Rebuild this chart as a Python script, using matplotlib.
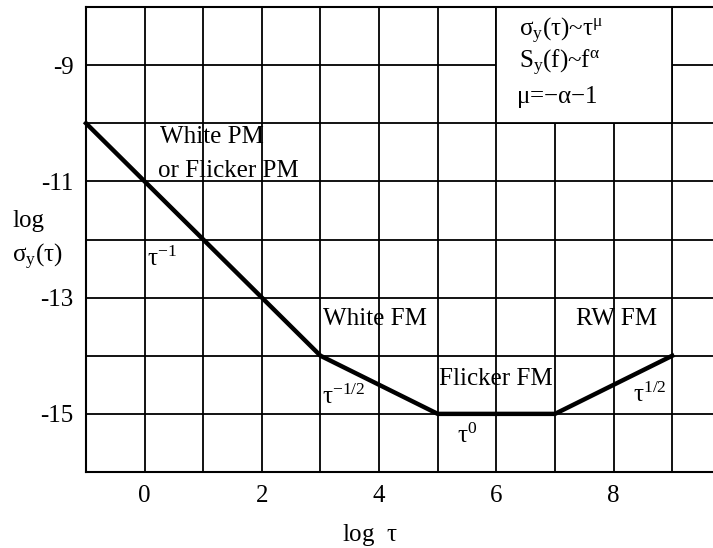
import numpy as np
import matplotlib
matplotlib.use("Agg")
import matplotlib.pyplot as plt
from matplotlib.patches import Rectangle

plt.rcParams['font.family'] = ['Liberation Serif', 'DejaVu Serif']
plt.rcParams['mathtext.fontset'] = 'custom'
plt.rcParams['mathtext.rm'] = 'Liberation Serif'
plt.rcParams['mathtext.it'] = 'Liberation Serif'
plt.rcParams['mathtext.default'] = 'regular'

# DATA
log_tau = [-1, 3, 5, 7, 9]
log_sigma = [-10, -14, -15, -15, -14]

x_ticks = [0, 2, 4, 6, 8]
y_ticks = [-9, -11, -13, -15]

# labels: (x, y baseline, text)
notes = [
    (0.26, -10.34, "White PM"),
    (0.23, -10.92, "or Flicker PM"),
    (0.04, -12.45, r"$\tau^{-1}$"),
    (3.05, -13.47, "White FM"),
    (3.03, -14.83, r"$\tau^{-1/2}$"),
    (5.02, -14.5, "Flicker FM"),
    (5.33, -15.5, r"$\tau^{0}$"),
    (7.36, -13.47, "RW FM"),
    (8.33, -14.8, r"$\tau^{1/2}$"),
]
box_lines = [
    (6.38, -8.5, r"$\sigma_y(\tau)$~$\tau^{\mu}$"),
    (6.38, -9.05, r"$S_y(f)$~$f^{\alpha}$"),
    (6.33, -9.65, r"$\mu$=−$\alpha$−1"),
]

fig = plt.figure(figsize=(7.13, 5.48), dpi=100)
ax = fig.add_axes([86/713, 1 - 472/548, 1 - 86/713 + 0.002, (472 - 7)/548])

ax.set_xlim(-1, 9.72)
ax.set_ylim(-16, -8)
ax.set_xticks(np.arange(-1, 10))
ax.set_xticklabels([str(v) if v in x_ticks else "" for v in range(-1, 10)])
ax.set_yticks(np.arange(-16, -7))
ax.set_yticklabels([str(v) if v in y_ticks else "" for v in range(-16, -7)])
ax.tick_params(length=0, labelsize=18)
ax.tick_params(axis='y', pad=9)
ax.tick_params(axis='x', pad=9)
ax.set_axisbelow(True)
ax.grid(color='black', lw=1.3)
for s in ['left', 'top', 'bottom']:
    ax.spines[s].set_linewidth(1.5)
ax.spines['right'].set_visible(False)

ax.plot(log_tau, log_sigma, color='black', lw=3.2, zorder=3, clip_on=False)

ax.add_patch(Rectangle((6, -10), 3, 2, facecolor='white', edgecolor='black',
                       lw=1.3, zorder=1))

for x, y, t in notes:
    ax.text(x, y, t, fontsize=18, va='baseline', ha='left', zorder=4)
for x, y, t in box_lines:
    ax.text(x, y, t, fontsize=18, va='baseline', ha='left', zorder=4)

fig.text(342/713, 1 - 541/548, r"log  $\tau$", fontsize=18, va='baseline', ha='left')
fig.text(12/713, 1 - 227/548, "log", fontsize=18, va='baseline', ha='left')
fig.text(12/713, 1 - 262/548, r"$\sigma_y(\tau)$", fontsize=18, va='baseline', ha='left')

fig.savefig("out.png", dpi=100)
